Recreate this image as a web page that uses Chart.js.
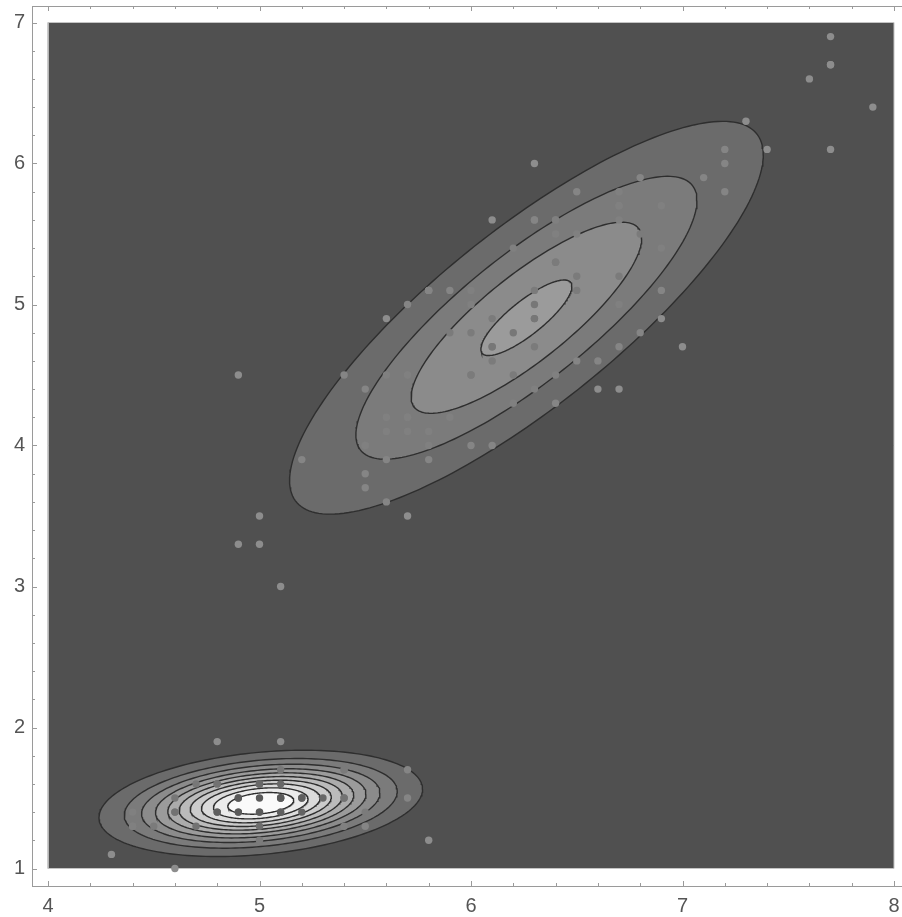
<!DOCTYPE html>
<html>
<head>
<meta charset="utf-8">
<script src="https://cdn.jsdelivr.net/npm/chart.js@4.4.1/dist/chart.umd.min.js"></script>
<style>
html, body { margin: 0; padding: 0; background: #fff; }
canvas { display: block; }
</style>
</head>
<body>
<canvas id="densityChart" width="902" height="917"></canvas>
<script>
// iris measurements: sepal length (x) vs petal length (y)
const sepalLength = [
    5.1, 4.9, 4.7, 4.6, 5.0, 5.4, 4.6, 5.0, 4.4, 4.9, 5.4, 4.8, 4.8, 4.3, 5.8, 5.7, 5.4, 5.1, 5.7, 5.1,
    5.4, 5.1, 4.6, 5.1, 4.8, 5.0, 5.0, 5.2, 5.2, 4.7, 4.8, 5.4, 5.2, 5.5, 4.9, 5.0, 5.5, 4.9, 4.4, 5.1,
    5.0, 4.5, 4.4, 5.0, 5.1, 4.8, 5.1, 4.6, 5.3, 5.0,
    7.0, 6.4, 6.9, 5.5, 6.5, 5.7, 6.3, 4.9, 6.6, 5.2, 5.0, 5.9, 6.0, 6.1, 5.6, 6.7, 5.6, 5.8, 6.2, 5.6,
    5.9, 6.1, 6.3, 6.1, 6.4, 6.6, 6.8, 6.7, 6.0, 5.7, 5.5, 5.5, 5.8, 6.0, 5.4, 6.0, 6.7, 6.3, 5.6, 5.5,
    5.5, 6.1, 5.8, 5.0, 5.6, 5.7, 5.7, 6.2, 5.1, 5.7,
    6.3, 5.8, 7.1, 6.3, 6.5, 7.6, 4.9, 7.3, 6.7, 7.2, 6.5, 6.4, 6.8, 5.7, 5.8, 6.4, 6.5, 7.7, 7.7, 6.0,
    6.9, 5.6, 7.7, 6.3, 6.7, 7.2, 6.2, 6.1, 6.4, 7.2, 7.4, 7.9, 6.4, 6.3, 6.1, 7.7, 6.3, 6.4, 6.0, 6.9,
    6.7, 6.9, 5.8, 6.8, 6.7, 6.7, 6.3, 6.5, 6.2, 5.9
];
const petalLength = [
    1.4, 1.4, 1.3, 1.5, 1.4, 1.7, 1.4, 1.5, 1.4, 1.5, 1.5, 1.6, 1.4, 1.1, 1.2, 1.5, 1.3, 1.4, 1.7, 1.5,
    1.7, 1.5, 1.0, 1.7, 1.9, 1.6, 1.6, 1.5, 1.4, 1.6, 1.6, 1.5, 1.5, 1.4, 1.5, 1.2, 1.3, 1.4, 1.3, 1.5,
    1.3, 1.3, 1.3, 1.6, 1.9, 1.4, 1.6, 1.4, 1.5, 1.4,
    4.7, 4.5, 4.9, 4.0, 4.6, 4.5, 4.7, 3.3, 4.6, 3.9, 3.5, 4.2, 4.0, 4.7, 3.6, 4.4, 4.5, 4.1, 4.5, 3.9,
    4.8, 4.0, 4.9, 4.7, 4.3, 4.4, 4.8, 5.0, 4.5, 3.5, 3.8, 3.7, 3.9, 5.1, 4.5, 4.5, 4.7, 4.4, 4.1, 4.0,
    4.4, 4.6, 4.0, 3.3, 4.2, 4.2, 4.2, 4.3, 3.0, 4.1,
    6.0, 5.1, 5.9, 5.6, 5.8, 6.6, 4.5, 6.3, 5.8, 6.1, 5.1, 5.3, 5.5, 5.0, 5.1, 5.3, 5.5, 6.7, 6.9, 5.0,
    5.7, 4.9, 6.7, 4.9, 5.7, 6.0, 4.8, 4.9, 5.6, 5.8, 6.1, 6.4, 5.6, 5.1, 5.6, 6.1, 5.6, 5.5, 4.8, 5.4,
    5.6, 5.1, 5.1, 5.9, 5.7, 5.2, 5.0, 5.2, 5.4, 5.1
];

// two-component gaussian mixture
const compMeanX = [5.006, 6.262];
const compMeanY = [1.462, 4.906];
const compSdX = [0.349, 0.660];
const compSdY = [0.172, 0.821];
const compRho = [0.267, 0.829];
const compWeight = [1 / 3, 2 / 3];

// density contour levels
const contourLevels = [0.083, 0.166, 0.249, 0.332, 0.415, 0.498, 0.581, 0.664, 0.747, 0.830];

const plotX = [4, 8];
const plotY = [1, 7];
const xMajorTicks = [4, 5, 6, 7, 8];
const yMajorTicks = [1, 2, 3, 4, 5, 6, 7];
const minorStep = 0.2;

// grey level of each band, darkest (outside) to white (peak)
const bandGray = [80, 107, 123, 139, 155, 171, 187, 203, 219, 235, 250];
const grey = g => `rgb(${g},${g},${g})`;

function density(x, y) {
    let s = 0;
    for (let k = 0; k < compWeight.length; k++) {
        const u = (x - compMeanX[k]) / compSdX[k];
        const v = (y - compMeanY[k]) / compSdY[k];
        const r = compRho[k];
        const q = (u * u - 2 * r * u * v + v * v) / (1 - r * r);
        s += compWeight[k] * Math.exp(-q / 2) / (2 * Math.PI * compSdX[k] * compSdY[k] * Math.sqrt(1 - r * r));
    }
    return s;
}

function ellipse(k, level) {
    const r = compRho[k];
    const peak = compWeight[k] / (2 * Math.PI * compSdX[k] * compSdY[k] * Math.sqrt(1 - r * r));
    if (level >= peak) return null;
    const d = Math.sqrt(-2 * Math.log(level / peak));
    const pts = [];
    const n = 200;
    for (let i = 0; i <= n; i++) {
        const t = 2 * Math.PI * i / n;
        pts.push({
            x: compMeanX[k] + compSdX[k] * d * Math.cos(t),
            y: compMeanY[k] + compSdY[k] * d * (r * Math.cos(t) + Math.sqrt(1 - r * r) * Math.sin(t))
        });
    }
    return pts;
}

function tickValues(a, b) {
    const out = [];
    const n = Math.round((b - a) / minorStep);
    for (let i = 0; i <= n; i++) out.push(Math.round((a + i * minorStep) * 10) / 10);
    return out;
}

const datasets = [];
datasets.push({
    data: [
        { x: plotX[0], y: plotY[0] }, { x: plotX[1], y: plotY[0] },
        { x: plotX[1], y: plotY[1] }, { x: plotX[0], y: plotY[1] }, { x: plotX[0], y: plotY[0] }
    ],
    showLine: true,
    fill: 'shape',
    backgroundColor: grey(bandGray[0]),
    borderColor: '#c4c4c4',
    borderWidth: 1,
    pointRadius: 0,
    tension: 0,
    order: 1000
});
contourLevels.forEach((lev, i) => {
    for (let k = 0; k < compWeight.length; k++) {
        const pts = ellipse(k, lev);
        if (!pts) continue;
        datasets.push({
            data: pts,
            showLine: true,
            fill: 'shape',
            backgroundColor: grey(bandGray[i + 1]),
            borderColor: '#2e2e2e',
            borderWidth: 1.4,
            pointRadius: 0,
            tension: 0,
            order: 900 - i
        });
    }
});
datasets.push({
    data: sepalLength.map((x, i) => ({ x: x, y: petalLength[i] })),
    showLine: false,
    pointRadius: 3.7,
    pointBorderWidth: 0,
    pointBackgroundColor: ctx => {
        const p = ctx.raw;
        if (!p) return '#888';
        const dens = density(p.x, p.y);
        let band = 0;
        contourLevels.forEach(l => { if (dens >= l) band++; });
        return grey(Math.round(165 - 0.3 * bandGray[band]));
    },
    order: 0
});

const tickFont = { family: 'Liberation Sans', size: 20 };

const axisFrame = {
    id: 'axisFrame',
    afterDraw(chart) {
        const c = chart.ctx, a = chart.chartArea;
        const sx = chart.scales.x, sy = chart.scales.y;
        c.save();
        c.strokeStyle = '#9a9a9a';
        c.lineWidth = 1;
        c.beginPath();
        c.moveTo(a.left + 0.5, a.top); c.lineTo(a.left + 0.5, a.bottom);
        c.moveTo(a.left, a.bottom + 0.5); c.lineTo(a.right, a.bottom + 0.5);
        c.moveTo(a.left, a.top + 0.5); c.lineTo(a.right, a.top + 0.5);
        tickValues(plotX[0], plotX[1]).forEach(v => {
            const px = Math.round(sx.getPixelForValue(v)) + 0.5;
            const len = xMajorTicks.includes(v) ? 5 : 3;
            c.moveTo(px, a.bottom); c.lineTo(px, a.bottom - len);
            c.moveTo(px, a.top); c.lineTo(px, a.top + len);
        });
        tickValues(plotY[0], plotY[1]).forEach(v => {
            const py = Math.round(sy.getPixelForValue(v)) + 0.5;
            const len = yMajorTicks.includes(v) ? 5 : 3;
            c.moveTo(a.left, py); c.lineTo(a.left + len, py);
        });
        c.stroke();
        c.restore();
    }
};

const noPad = s => { s.paddingLeft = 0; s.paddingRight = 0; s.paddingTop = 0; s.paddingBottom = 0; };

new Chart(document.getElementById('densityChart').getContext('2d'), {
    type: 'scatter',
    data: { datasets: datasets },
    options: {
        responsive: false,
        animation: false,
        layout: { autoPadding: false, padding: { top: 6, right: 0, left: 0, bottom: 0 } },
        plugins: {
            legend: { display: false },
            tooltip: { enabled: false }
        },
        scales: {
            x: {
                type: 'linear',
                min: 4 - 16 / 211.5,
                max: 4 + 854 / 211.5,
                afterFit: s => { s.height = 31; noPad(s); },
                afterBuildTicks: s => { s.ticks = tickValues(plotX[0], plotX[1]).map(v => ({ value: v })); },
                grid: { display: false, drawTicks: false },
                border: { display: false },
                ticks: {
                    autoSkip: false,
                    maxRotation: 0,
                    padding: 8,
                    color: '#555',
                    font: tickFont,
                    callback: v => xMajorTicks.includes(v) ? String(v) : ''
                }
            },
            y: {
                type: 'linear',
                min: 1 - 17.5 / 141,
                max: 7 + 16.5 / 141,
                afterFit: s => { s.width = 32; noPad(s); },
                afterBuildTicks: s => { s.ticks = tickValues(plotY[0], plotY[1]).map(v => ({ value: v })); },
                grid: { display: false, drawTicks: false },
                border: { display: false },
                ticks: {
                    autoSkip: false,
                    padding: 7,
                    color: '#555',
                    font: tickFont,
                    callback: v => yMajorTicks.includes(v) ? String(v) : ''
                }
            }
        }
    },
    plugins: [axisFrame]
});
</script>
</body>
</html>
